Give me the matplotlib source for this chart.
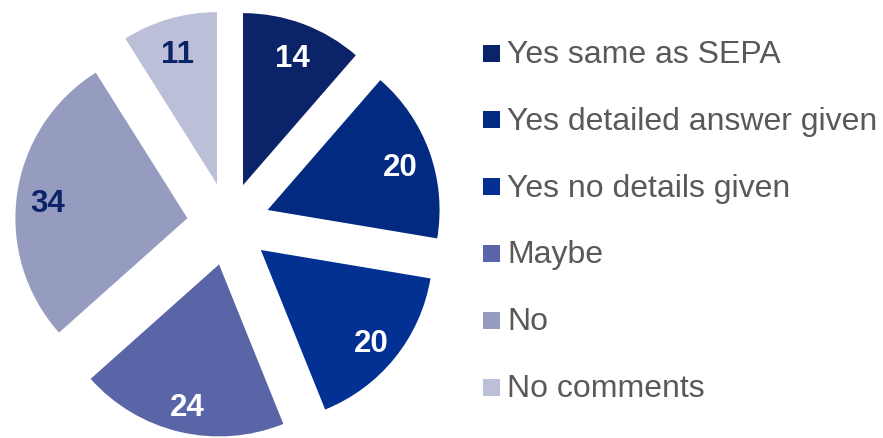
import matplotlib
matplotlib.use("Agg")
import matplotlib.pyplot as plt
from matplotlib.patches import Rectangle
import matplotlib.transforms as mtrans

categories = ["Yes same as SEPA", "Yes detailed answer given", "Yes no details given",
              "Maybe", "No", "No comments"]
values = [14, 20, 20, 24, 34, 11]
colors = ["#0b2368", "#022a80", "#033193", "#5a65a7", "#959cc0", "#bcbfd8"]
label_colors = ["white", "white", "white", "white", "#0b2368", "#0b2368"]

W, H = 883, 438
fig = plt.figure(figsize=(W / 100, H / 100), dpi=100)
ax = fig.add_axes([0, 0, 1, 1])

cx, cy = 228.5, H - 224
radius = 172
explode_px = 41.5

wedges, texts, autotexts = ax.pie(
    values, colors=colors, startangle=90, counterclock=False,
    center=(cx, cy), radius=radius, explode=[explode_px] * len(values),
    autopct=lambda p: "", pctdistance=0.82, frame=True,
    wedgeprops=dict(linewidth=0))

shift = mtrans.ScaledTranslation(0, -6 / 100, fig.dpi_scale_trans)
for v, t, c in zip(values, autotexts, label_colors):
    t.set_text(str(v))
    t.set_color(c)
    t.set_fontsize(22.5)
    t.set_fontweight("bold")
    t.set_family("Liberation Sans")
    t.set_transform(t.get_transform() + shift)

ax.set_xlim(0, W)
ax.set_ylim(0, H)
ax.set_aspect("equal")
ax.axis("off")

# legend
x_box, box = 483, 17
y0, dy = 53, 66.8
for i, (cat, col) in enumerate(zip(categories, colors)):
    yc = H - (y0 + i * dy)
    ax.add_patch(Rectangle((x_box, yc - box / 2), box, box, facecolor=col, edgecolor="none"))
    ax.text(x_box + 24, yc - 2, cat, va="center", ha="left", fontsize=23,
            color="#595959", family="Liberation Sans")

fig.savefig("out.png", dpi=100)
